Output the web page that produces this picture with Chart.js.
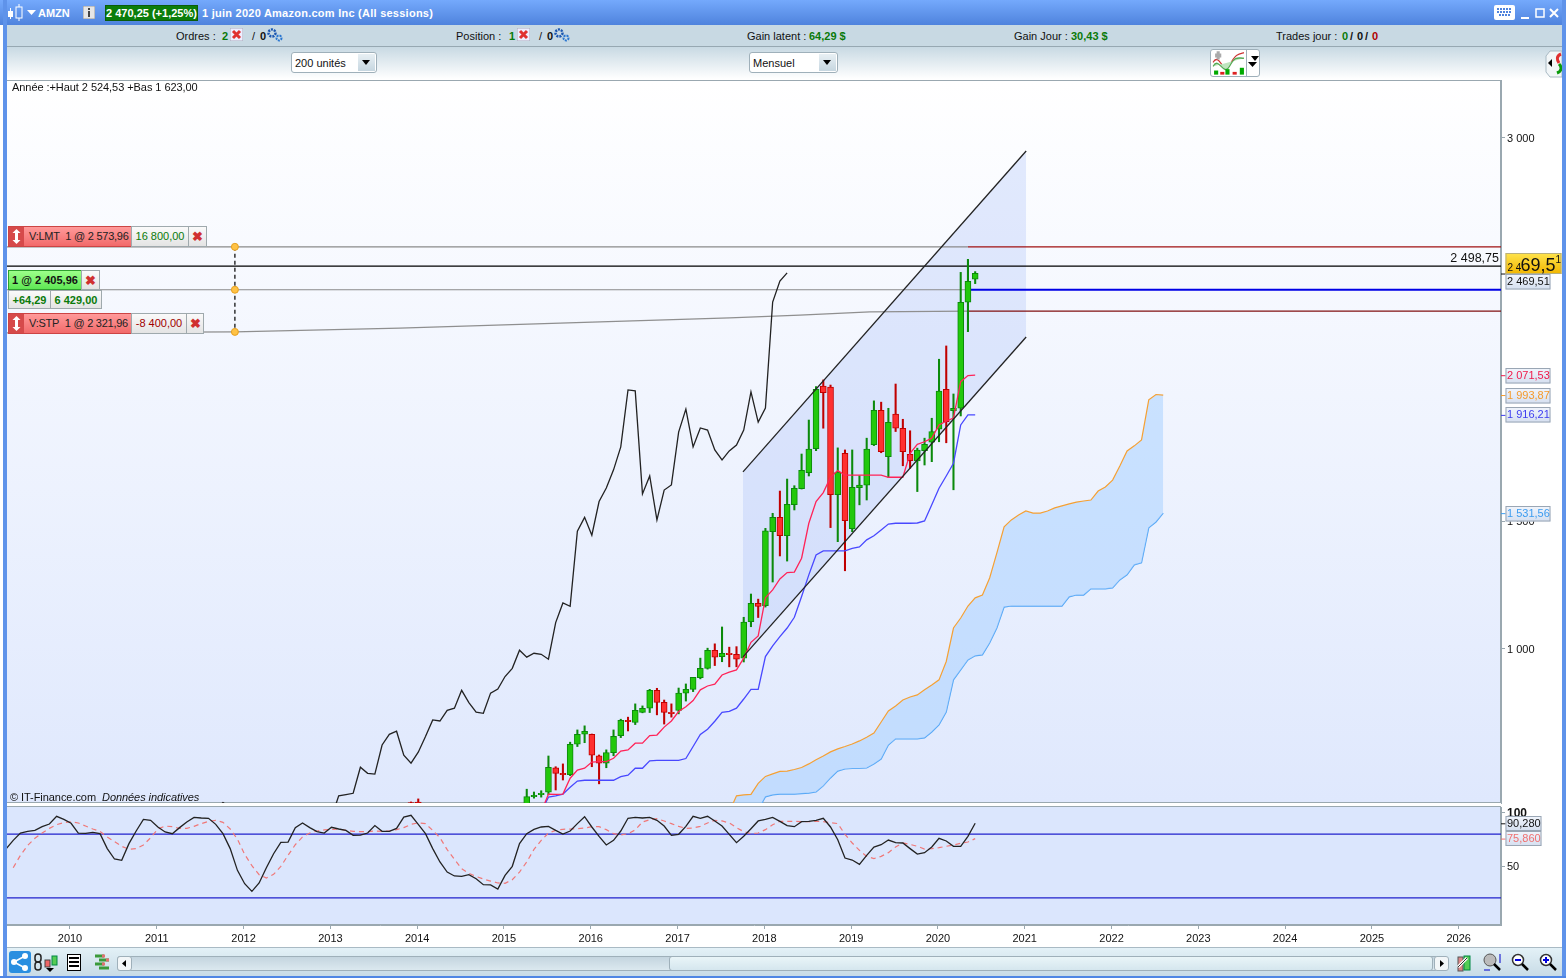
<!DOCTYPE html>
<html lang="fr">
<head>
<meta charset="utf-8">
<title>AMZN</title>
<script src="https://cdn.jsdelivr.net/npm/chart.js@4/dist/chart.umd.min.js"></script>
<style>
  html, body { margin:0; padding:0; width:1566px; height:978px; overflow:hidden; background:#fff;
    font:11px "Liberation Sans", Arial, sans-serif; color:#111; }
  .abs { position:absolute; white-space:nowrap; }
  .edgeL { left:3px; top:0; width:4px; height:978px; background:#5f93ea; }
  .edgeR { left:1562px; top:0; width:4px; height:978px; background:#5f93ea; }
  .edgeB { left:0; top:976px; width:1566px; height:2px; background:#4f86e4; }
  #title { left:0; top:0; width:1566px; height:25px; background:linear-gradient(#74a9fc,#4f83dd); }
  #title span { position:absolute; top:7px; color:#fff; font-weight:bold; line-height:13px; letter-spacing:.25px; }
  #quote { left:105px; top:5px !important; height:16px; background:#0b7d0b; border:1px solid #0a5c0a; line-height:14px !important; text-align:center; box-sizing:border-box; width:93px; letter-spacing:0 !important; }
  #info { left:7px; top:25px; width:1555px; height:21px; background:#c8d9e3; border-bottom:1px solid #97a8b2; }
  #info span { position:absolute; top:5px; line-height:13px; }
  .g { color:#0a7a0a; font-weight:bold; }
  .r { color:#b00000; font-weight:bold; }
  .k { font-weight:bold; }
  #tools { left:7px; top:47px; width:1555px; height:32px; background:linear-gradient(#c8d9e3,#fff); }
  .combo { position:absolute; top:5px; height:21px; box-sizing:border-box; background:#fff; border:1px solid #9fb0ba; border-radius:3px; line-height:21px; padding-left:3px; }
  .combo i { position:absolute; right:1px; top:1px; width:17px; height:17px; background:linear-gradient(#e8f0f4,#c6d6e0); }
  .combo i::after { content:""; position:absolute; left:4px; top:6px; border:4px solid transparent; border-top:5px solid #000; }
  #panelTop { left:7px; top:80px; width:1494px; height:723px; box-sizing:border-box; border:1px solid #9aa8b0; border-left:0;
    background:linear-gradient(#ffffff,#dfe8fd); }
  #panelRsi { left:7px; top:806px; width:1494px; height:119px; box-sizing:border-box; border:1px solid #9aa8b0; border-left:0; background:#dbe6fd; }
  #chartTop, #chartRsi { position:absolute; left:7px; display:block; }
  #bottom { left:7px; top:947px; width:1555px; height:29px; background:linear-gradient(#e3f1f7,#c8dbe6); border-top:1px solid #a9bac4; box-sizing:border-box; }
  .scroll { position:absolute; top:8px; height:15px; box-sizing:border-box; border:1px solid #9fb0ba; border-radius:3px; }
  .order { position:absolute; height:20px; box-sizing:border-box; line-height:19px; border:1px solid #9fa9ad; background:linear-gradient(#fafafa,#e4e4e4); text-align:center; white-space:nowrap; }
  .sell { background:linear-gradient(#ff9a9a,#f26a6a); border-color:#c44; color:#222; text-align:left; padding-left:20px; letter-spacing:-.25px; }
  .arrow { position:absolute; left:0; top:0; width:15px; height:19px; background:#d64a4a; }
  .cross { color:#d03030; font-weight:bold; font-size:13px; }
  .note { position:absolute; line-height:13px; letter-spacing:-.06px; }
</style>
</head>
<body>
<div class="abs" id="panelTop"></div>
<div class="abs" id="panelRsi"></div>
<canvas id="chartTop" width="1559" height="743" style="top:70px;width:1559px;height:743px"></canvas>
<canvas id="chartRsi" width="1559" height="160" style="top:797px;width:1559px;height:160px"></canvas>

<div class="abs" id="title">
  <svg class="abs" style="left:7px;top:3px" width="17" height="18" viewBox="0 0 17 18"><rect x="1" y="8" width="5" height="6" fill="#fff"/><rect x="9" y="4" width="6" height="11" fill="none" stroke="#fff"/><path d="M12 1v3M12 15v3M3.500 5v3M3.500 14v2" stroke="#fff"/></svg>
  <svg class="abs" style="left:27px;top:10px" width="9" height="6"><path d="M0 0h9L4.500 5z" fill="#fff"/></svg>
  <span style="left:38px;letter-spacing:0">AMZN</span>
  <svg class="abs" style="left:83px;top:6px" width="12" height="13"><rect width="12" height="13" fill="#e6e6e6" stroke="#999"/><path d="M6 2v2M6 5v6" stroke="#444" stroke-width="2"/></svg>
  <span id="quote">2 470,25 (+1,25%)</span>
  <span style="left:202px">1 juin 2020 Amazon.com Inc (All sessions)</span>
  <svg class="abs" style="left:1494px;top:5px" width="21" height="16"><rect width="21" height="15" rx="2" fill="#fff"/><path d="M3 4h15M3 7h15M5 10h11" stroke="#4f83dd" stroke-width="2" stroke-dasharray="2 1"/></svg>
  <svg class="abs" style="left:1520px;top:8px" width="40" height="12"><path d="M1 10h8" stroke="#fff" stroke-width="2"/><rect x="16" y="1" width="8" height="8" fill="none" stroke="#fff" stroke-width="1.500"/><path d="M30 1l8 8M38 1l-8 8" stroke="#fff" stroke-width="2"/></svg>
</div>

<div class="abs" id="info">
  <span style="left:169px">Ordres :</span><span class="g" style="left:215px">2</span>
  <svg class="abs" style="left:223px;top:3px" width="13" height="13"><rect width="13" height="13" fill="#eef" stroke="#aab"/><path d="M3 3l7 7M10 3l-7 7" stroke="#e03030" stroke-width="3"/></svg>
  <span style="left:245px">/</span><span class="k" style="left:253px">0</span>
  <svg class="abs" style="left:260px;top:3px" width="16" height="14"><circle cx="5" cy="5" r="3.500" fill="none" stroke="#1a56b0" stroke-width="2.500" stroke-dasharray="2 1"/><circle cx="12" cy="10" r="2.500" fill="none" stroke="#2a76d0" stroke-width="2" stroke-dasharray="2 1"/></svg>
  <span style="left:449px">Position :</span><span class="g" style="left:502px">1</span>
  <svg class="abs" style="left:510px;top:3px" width="13" height="13"><rect width="13" height="13" fill="#eef" stroke="#aab"/><path d="M3 3l7 7M10 3l-7 7" stroke="#e03030" stroke-width="3"/></svg>
  <span style="left:532px">/</span><span class="k" style="left:540px">0</span>
  <svg class="abs" style="left:547px;top:3px" width="16" height="14"><circle cx="5" cy="5" r="3.500" fill="none" stroke="#1a56b0" stroke-width="2.500" stroke-dasharray="2 1"/><circle cx="12" cy="10" r="2.500" fill="none" stroke="#2a76d0" stroke-width="2" stroke-dasharray="2 1"/></svg>
  <span style="left:740px">Gain latent :</span><span class="g" style="left:802px">64,29 $</span>
  <span style="left:1007px">Gain Jour :</span><span class="g" style="left:1064px">30,43 $</span>
  <span style="left:1269px">Trades jour :</span>
  <span class="g" style="left:1335px">0</span><span class="k" style="left:1343px">/</span><span class="k" style="left:1350px">0</span><span class="k" style="left:1358px">/</span><span class="r" style="left:1365px">0</span>
</div>

<div class="abs" id="tools">
  <div class="combo" style="left:284px;width:86px">200 unités<i></i></div>
  <div class="combo" style="left:742px;width:89px">Mensuel<i></i></div>
  <div class="combo" style="left:1203px;top:2px;width:50px;height:28px;padding:0">
    <svg width="34" height="26" viewBox="0 0 33 19" preserveAspectRatio="none" style="position:absolute;left:1px;top:0"><path d="M1 9c6-8 10 10 16 2s8-8 14-9" fill="none" stroke="#c33"/><path d="M1 12c6-8 10 8 16 0s8-6 14-6" fill="#bfe5bf" stroke="#5a5"/><path d="M3 4h6M6 1v6" stroke="#aaa" stroke-width="3"/><rect x="2" y="15" width="4" height="3" fill="#0a0"/><rect x="13" y="14" width="4" height="4" fill="#0a0"/><rect x="27" y="13" width="4" height="5" fill="#0a0"/><rect x="8" y="16" width="4" height="2" fill="#d22"/><rect x="20" y="16" width="4" height="2" fill="#d22"/></svg>
    <svg width="9" height="6" style="position:absolute;left:37px;top:12px"><path d="M0 0h9L4.500 5z" fill="#000"/></svg>
    <i style="left:35px;top:0;width:0;height:26px;border-left:1px solid #9fb0ba;background:none"></i>
  </div>
  <svg class="abs" style="left:1537px;top:1px" width="18" height="31"><path d="M2 8l4-5h12v26H6l-4-5z" fill="#f2f6f8" stroke="#a9bac4"/><path d="M4 15l4-4v8z" fill="#000"/><path d="M17 6c-5 2-4 6-2 9" fill="none" stroke="#e03030" stroke-width="3"/><path d="M15 16c3 3 3 7-2 9" fill="none" stroke="#0a9a0a" stroke-width="3"/></svg>
</div>

<div class="note" style="left:12px;top:81px">Année :+Haut 2 524,53 +Bas 1 623,00</div>
<div class="note" style="left:10px;top:791px;z-index:3">© IT-Finance.com&nbsp; <i>Données indicatives</i></div>

<div class="order sell" style="left:8px;top:226px;width:124px;height:21px">V:LMT&nbsp; 1 @ 2 573,96<span class="arrow"><svg width="15" height="19"><path d="M7.500 2l4 4H9v7h2.500l-4 4-4-4H6V6H3.500z" fill="#fff"/></svg></span></div>
<div class="order g" style="left:131px;top:226px;width:58px;height:21px;font-weight:normal">16 800,00</div>
<div class="order cross" style="left:188px;top:226px;width:19px;height:21px">✖</div>

<div class="order" style="left:8px;top:270px;width:74px;background:linear-gradient(#9cff8a,#5fe855);border-color:#2ea02e;font-weight:bold">1 @ 2 405,96</div>
<div class="order cross" style="left:81px;top:270px;width:19px">✖</div>
<div class="order g" style="left:8px;top:290px;width:43px;height:19px">+64,29</div>
<div class="order g" style="left:50px;top:290px;width:52px;height:19px">6 429,00</div>

<div class="order sell" style="left:8px;top:313px;width:124px;height:21px">V:STP&nbsp; 1 @ 2 321,96<span class="arrow"><svg width="15" height="19"><path d="M7.500 2l4 4H9v7h2.500l-4 4-4-4H6V6H3.500z" fill="#fff"/></svg></span></div>
<div class="order" style="left:131px;top:313px;width:56px;height:21px;color:#a00000">-8 400,00</div>
<div class="order cross" style="left:186px;top:313px;width:18px;height:21px">✖</div>

<div class="abs" id="bottom">
  <svg class="abs" style="left:2px;top:3px" width="22" height="22"><rect width="22" height="22" rx="3" fill="#2a8fe0"/><circle cx="5" cy="11" r="3" fill="#fff"/><circle cx="16" cy="5" r="3" fill="#fff"/><circle cx="16" cy="17" r="3" fill="#fff"/><path d="M5 11L16 5M5 11l11 6" stroke="#fff" stroke-width="1.500"/></svg>
  <svg class="abs" style="left:27px;top:5px" width="24" height="20"><rect x="1" y="1" width="6" height="8" rx="3" fill="none" stroke="#222" stroke-width="1.500"/><rect x="1" y="9" width="6" height="8" rx="3" fill="none" stroke="#222" stroke-width="1.500"/><rect x="11" y="7" width="5" height="7" fill="#e66" stroke="#444"/><rect x="18" y="3" width="5" height="9" fill="#5c5" stroke="#084"/><path d="M12 15h8l-4 4z" fill="#000"/></svg>
  <svg class="abs" style="left:60px;top:6px" width="14" height="17"><rect x=".5" y=".5" width="13" height="16" fill="#fff" stroke="#000"/><path d="M2 4h10M2 8h10M2 12h10" stroke="#000" stroke-width="2"/></svg>
  <svg class="abs" style="left:87px;top:6px" width="16" height="17"><path d="M1 2h9M5 6h10M1 10h9M5 14h10" stroke="#3a9a3a" stroke-width="3"/><path d="M8 2h3M12 6h3M8 10h3" stroke="#e07070" stroke-width="3"/></svg>
  <div class="scroll" style="left:110px;width:1322px;background:linear-gradient(#c4d5df,#dbe8ef)"></div>
  <div class="scroll" style="left:110px;width:15px;background:#f2f6f8"><svg width="13" height="13" style="display:block"><path d="M8 3v7L4 6.500z" fill="#000"/></svg></div>
  <div class="scroll" style="left:662px;width:764px;background:linear-gradient(#e9f5f8,#d5e6ee)"></div>
  <div class="scroll" style="left:1427px;width:15px;background:#f2f6f8"><svg width="13" height="13" style="display:block"><path d="M5 3v7l4-3.500z" fill="#000"/></svg></div>
  <svg class="abs" style="left:1449px;top:5px" width="16" height="21"><rect x="2" y="4" width="5" height="14" fill="#d88" stroke="#555"/><rect x="8" y="3" width="6" height="14" fill="#5c5" stroke="#084"/><path d="M2 14l9-9" stroke="#fff" stroke-width="3"/><path d="M2 14l9-9" stroke="#333"/></svg>
  <svg class="abs" style="left:1476px;top:5px" width="20" height="19"><circle cx="7" cy="7" r="6" fill="#bbb" stroke="#555"/><path d="M11 11l6 6" stroke="#000" stroke-width="2.500"/><path d="M17 1v9M1 17h6" stroke="#00c"/></svg>
  <svg class="abs" style="left:1504px;top:5px" width="18" height="19"><circle cx="7" cy="7" r="5.500" fill="#fff" stroke="#333" stroke-width="1.500"/><path d="M4 7h6" stroke="#00d" stroke-width="2"/><path d="M11 11l6 6" stroke="#000" stroke-width="2.500"/></svg>
  <svg class="abs" style="left:1532px;top:5px" width="18" height="19"><circle cx="7" cy="7" r="5.500" fill="#fff" stroke="#333" stroke-width="1.500"/><path d="M4 7h6M7 4v6" stroke="#00d" stroke-width="2"/><path d="M11 11l6 6" stroke="#000" stroke-width="2.500"/></svg>
</div>
<div class="abs edgeL"></div>
<div class="abs edgeR"></div>
<div class="abs edgeB"></div>

<script>
// x axis unit is months since Jan 2010
const yearLabels = [2010,2011,2012,2013,2014,2015,2016,2017,2018,2019,2020,2021,2022,2023,2024,2025,2026];
const priceTicks = [1000, 1500, 3000];
const rsiTicks = [50, 100];
const rsiBands = [20, 80];

const candleMonths = [47,48,63,64,65,66,67,68,69,70,71,72,73,74,75,76,77,78,79,80,81,82,83,84,85,86,87,88,89,90,91,92,93,94,95,96,97,98,99,100,101,102,103,104,105,106,107,108,109,110,111,112,113,114,115,116,117,118,119,120,121,122,123,124,125];
const candleOpen = [399,401,378,422,430,439,535,513,508,627,666,666,582,553,594,661,721,712,752,768,838,791,752,759,827,842,888,924,995,970,983,979,964,1107,1179,1169,1459,1515,1443,1565,1627,1690,1784,2029,2025,1604,1766,1471,1631,1641,1800,1934,1753,1919,1864,1762,1736,1776,1809,1860,2016,1933,1942,2357,2447];
const candleClose = [386,386,422,427,435,537,513,508,627,666,678,584,553,594,658,721,715,760,768,838,791,752,747,827,842,889,924,995,968,983,978,960,1105,1179,1166,1462,1515,1443,1566,1629,1699,1782,2016,2003,1604,1692,1502,1633,1641,1782,1934,1772,1887,1864,1772,1737,1778,1801,1851,2009,1890,1942,2357,2439,2470];
const candleHigh = [401,413,451,440,445,581,539,550,635,683,699,667,585,605,683,725,733,785,777,842,846,800,785,847,863,889,964,1003,1020,1086,1007,1009,1124,1215,1195,1472,1531,1618,1665,1639,1763,1896,2027,2053,2033,1787,1779,1779,1678,1825,1971,1966,1942,2037,1899,1854,1786,1825,1903,2134,2186,1998,2474,2525,2477];
const candleLow = [370,362,350,416,420,429,448,487,504,618,633,539,472,535,582,653,679,704,750,751,742,706,733,746,796,833,883,921,935,950,930,930,949,1087,1123,1164,1262,1364,1344,1544,1626,1677,1776,1864,1475,1420,1306,1459,1564,1583,1796,1768,1672,1851,1717,1707,1616,1720,1733,1811,1807,1623,1912,2242,2430];

const tenkanStart = 65;
const tenkan = [362,432,431,432,494,526,533,557,559,559,572,600,605,631,631,661,663,694,718,755,774,798,840,855,862,898,909,918,964,1026,1051,1200,1231,1274,1299,1301,1355,1492,1577,1612,1672,1698,1680,1680,1680,1680,1680,1680,1672,1672,1672,1766,1801,1811,1825,1877,1892,1904,2046,2070,2071.53];
const kijunStart = 65;
const kijun = [362,420,425,432,459,483,486,486,486,486,486,500,506,533,533,562,564,564,564,564,571,618,665,686,717,752,756,768,804,842,842,970,1012,1048,1082,1124,1205,1290,1368,1384,1384,1384,1384,1394,1399,1427,1443,1466,1489,1492,1492,1492,1493,1501,1564,1629,1677,1727,1877,1916,1916.21];

const laggingStartA = 20;
const laggingA = [370,399,378];
const laggingStartB = 36;
const laggingB = [339,425,430,435,537,513,510,624,666,678,584,553,596,657,722,718,760,768,838,790,753,748,827,843,892,924,995,968,983,979,960,1103,1180,1167,1461,1515,1445,1577,1630,1701,1791,2014,2010,1607,1677,1505,1622,1642,1849,1939,1791,1865,1857,1779,1740,1775,1798,1857,2006,1888,1943,2358,2440,2472];

const cloudStart = 91;
const senkouA = [362,425,429,431,474,501,511,521,522,528,536,550,566,581,597,609,618,628,640,654,671,714,757,777,800,812,820,840,859,879,951,1082,1121,1168,1200,1211,1278,1376,1478,1505,1524,1540,1532,1532,1540,1552,1560,1568,1575,1579,1583,1618,1634,1661,1716,1775,1795,1818,1975,1996,1993.87];
const senkouB = [350,350,350,350,370,421,429,432,432,432,434,436,440,464,495,522,530,532,532,534,550,569,624,648,648,648,648,652,675,703,753,879,918,957,973,977,1023,1082,1164,1168,1168,1168,1168,1168,1168,1168,1168,1204,1211,1211,1235,1235,1235,1239,1270,1290,1329,1337,1474,1497,1531.56];

const channelMonths = [93.05, 132.2];
const channelUpper = [1693, 2949];
const channelLower = [969, 2221];

const orderLimit = 2573.96;
const orderEntry = 2405.96;
const orderStop = 2321.96;
const lastClose = 2498.75;
const stopCurveMonths = [-8.71, 22.8, 45.6, 73.3, 91.2, 100.9, 110.6, 124.15];
const stopCurve = [2237, 2241, 2256, 2280, 2296, 2307, 2319, 2321.96];
const orderHandleMonth = 22.8;
const orderStartMonth = 124.15;
const xMin = -8.71;
const xMax = 197.85;
// monthly bars sit a little after the first of the month
const barShift = 0.15;

const rsiStart = -9;
const rsi = [66.0,74.2,81.1,82.7,83.6,87.1,89.6,96.9,94.0,90.3,81.1,80.8,81.8,80.5,66.4,56.6,55.3,71.1,83.0,94.0,93.1,86.8,82.1,80.5,86.2,91.5,95.9,95.3,95.0,89.3,80.5,66.4,45.9,33.3,26.1,34.0,48.4,61.6,72.3,72.6,86.2,90.6,86.2,82.4,81.1,86.5,84.9,83.6,78.9,79.2,81.1,88.1,82.7,82.7,85.5,96.2,97.8,89.3,80.5,66.4,53.8,44.3,40.6,40.2,41.8,38.0,32.4,32.1,28.3,41.2,49.7,71.1,80.5,84.6,86.8,87.4,83.6,80.2,83.0,90.0,96.5,86.8,78.0,69.8,74.2,83.0,95.0,95.9,95.3,95.9,93.1,87.7,78.9,79.9,87.4,96.9,95.0,96.9,92.5,87.7,79.9,72.0,78.0,85.2,92.5,94.0,95.9,92.1,88.1,87.1,91.8,92.1,93.1,95.0,86.8,74.8,57.5,55.6,51.6,60.1,67.9,70.1,74.5,72.0,71.7,66.4,61.3,62.6,67.9,76.1,73.6,68.6,68.6,78.0,90.28];
const signalStart = -8;
const signal = [48.4,60.1,69.5,76.1,81.1,85.5,89.0,90.9,91.8,90.6,87.7,84.9,82.7,77.4,73.0,68.6,65.7,66.4,69.8,76.7,84.9,87.7,87.1,85.5,85.5,87.4,90.0,92.1,93.1,91.2,84.9,75.2,61.0,50.3,41.8,38.7,42.1,49.7,60.1,70.1,77.4,81.1,83.0,84.0,84.6,84.9,83.6,82.7,82.4,82.4,83.0,82.7,83.0,84.3,86.2,89.3,90.6,90.0,83.6,76.7,65.4,56.3,47.5,43.1,40.2,37.7,35.8,34.0,33.7,37.1,44.3,53.8,65.7,74.2,81.1,83.6,84.6,84.9,85.2,85.8,87.1,87.1,84.3,80.5,79.2,80.5,84.0,91.5,93.7,94.6,92.5,90.0,87.4,85.5,85.8,87.4,90.6,93.1,92.5,90.6,86.2,82.4,80.5,81.1,84.3,89.0,92.1,92.1,92.1,91.8,91.8,92.1,91.8,90.9,90.0,79.9,71.7,64.8,59.1,57.0,59.1,62.6,67.9,71.7,70.4,68.6,66.0,66.4,67.3,68.6,69.8,71.4,72.6,75.86];

const priceTags = [
  ['2 469,51', 2469.51, '#111111', 7.5],
  ['2 071,53', 2071.53, '#f0194a', 0],
  ['1 993,87', 1993.87, '#f59a2a', 0],
  ['1 916,21', 1916.21, '#3c3cf0', 0],
  ['1 531,56', 1531.56, '#3c9cf0', 0]
];
const rsiTags = [
  ['90,280', 90.28, '#111111', 0],
  ['75,860', 75.86, '#f07070', 0]
];

Chart.defaults.font.family = '"Liberation Sans", Arial, sans-serif';
Chart.defaults.font.size = 11;
Chart.defaults.color = '#111';

function pts(start, values) { return values.map((v, i) => ({ x: start + i + barShift, y: v })); }
function zip(xs, ys) { return xs.map((x, i) => ({ x, y: ys[i] })); }
function spaced(v) { return String(v).replace(/\B(?=(\d{3})+$)/g, ' '); }
function line(data, color, width, order, extra) {
  return Object.assign({ type:'line', data, borderColor:color, borderWidth:width, pointRadius:0, tension:0, fill:false, order }, extra || {});
}

function drawTag(ctx, x, w, y, h, text, color) {
  const g = ctx.createLinearGradient(0, y, 0, y + h);
  g.addColorStop(0, '#f1f5fc');
  g.addColorStop(1, '#d5dff0');
  ctx.fillStyle = g;
  ctx.fillRect(x, y, w, h);
  ctx.strokeStyle = '#9aa6b4';
  ctx.lineWidth = 1;
  ctx.strokeRect(x + .5, y + .5, w - 1, h - 1);
  ctx.fillStyle = color;
  ctx.font = '11px "Liberation Sans", Arial, sans-serif';
  ctx.textAlign = 'left';
  ctx.textBaseline = 'middle';
  ctx.fillText(text, x + 1.5, y + h / 2 + .5);
}

/* labels on the right of the price panel */
const priceLabels = {
  id: 'priceLabels',
  afterDraw(chart) {
    const { ctx, chartArea: a, scales: { y } } = chart;
    const right = a.right;
    ctx.save();
    priceTags.forEach(t => {
      const py = y.getPixelForValue(t[1]);
      ctx.strokeStyle = t[2];
      ctx.beginPath(); ctx.moveTo(right, py + .5); ctx.lineTo(right + 5, py + .5); ctx.stroke();
      drawTag(ctx, right + 4.5, 45, Math.round(py + t[3] - 7.5), 15.5, t[0], t[2]);
    });
    // live price box
    const py = y.getPixelForValue(lastClose);
    const bx = right + 4.5, by = Math.round(py) - 13, bh = 21;
    const g = ctx.createLinearGradient(0, by, 0, by + bh);
    g.addColorStop(0, '#ffe44d');
    g.addColorStop(1, '#f2b600');
    ctx.fillStyle = g;
    ctx.fillRect(bx, by, 56, bh);
    ctx.strokeStyle = '#b9b07a';
    ctx.strokeRect(bx + .5, by + .5, 55, bh - 1);
    ctx.fillStyle = '#111';
    ctx.textBaseline = 'alphabetic';
    ctx.textAlign = 'left';
    ctx.font = '10px "Liberation Sans", Arial, sans-serif';
    ctx.fillText('2 4', bx + 2, by + 18);
    ctx.font = '18px "Liberation Sans", Arial, sans-serif';
    ctx.fillText('69,5', bx + 15, by + 18);
    ctx.font = '10px "Liberation Sans", Arial, sans-serif';
    ctx.fillText('1', bx + 50, by + 10);
    // level caption above the black line
    ctx.font = '12.500px "Liberation Sans", Arial, sans-serif';
    ctx.textAlign = 'right';
    ctx.textBaseline = 'bottom';
    ctx.fillText('2 498,75', right - 2, py - 1);
    ctx.restore();
  }
};

const rsiLabels = {
  id: 'rsiLabels',
  afterDraw(chart) {
    const { ctx, chartArea: a, scales: { y } } = chart;
    ctx.save();
    rsiTags.forEach(t => {
      const py = y.getPixelForValue(t[1]);
      ctx.strokeStyle = t[2];
      ctx.beginPath(); ctx.moveTo(a.right, py + .5); ctx.lineTo(a.right + 5, py + .5); ctx.stroke();
      drawTag(ctx, a.right + 4.5, 36, Math.round(py - 7.5), 15, t[0], t[2]);
    });
    ctx.restore();
  }
};

const candleColors = candleMonths.map((m, i) => candleClose[i] >= candleOpen[i]);

new Chart(document.getElementById('chartTop'), {
  type: 'line',
  plugins: [priceLabels],
  data: {
    datasets: [
      // channel fill sits under everything
      line(zip(channelMonths, channelUpper), 'rgba(0,0,0,0)', 0, 95, { fill:'+1', backgroundColor:'rgba(165,190,250,.3)' }),
      line(zip(channelMonths, channelLower), 'rgba(0,0,0,0)', 0, 96),
      line(pts(cloudStart, senkouA), '#f5a033', 1.2, 80, { fill:'+1', backgroundColor:'rgba(170,210,255,.55)' }),
      line(pts(cloudStart, senkouB), '#4da3f5', 1.2, 81),
      // order levels
      line(zip([xMin, orderStartMonth], [orderLimit, orderLimit]), '#8a8a8a', 1.2, 70),
      line(zip([orderStartMonth, xMax], [orderLimit, orderLimit]), '#a01010', 1.2, 70),
      line(zip([xMin, xMax], [lastClose, lastClose]), '#000', 1.2, 70),
      line(zip([xMin, orderStartMonth], [orderEntry, orderEntry]), '#8a8a8a', 1.2, 70),
      line(zip([orderStartMonth, xMax], [orderEntry, orderEntry]), '#0000e6', 2, 70),
      line(zip(stopCurveMonths, stopCurve), '#8f8f8f', 1.3, 70),
      line(zip([orderStartMonth, xMax], [orderStop, orderStop]), '#801010', 1.2, 70),
      line(pts(laggingStartA, laggingA), '#222', 1.3, 60),
      line(pts(laggingStartB, laggingB), '#222', 1.3, 60),
      {
        type:'bar', order:50, grouped:false, barThickness:1.4,
        data: candleMonths.map((m, i) => ({ x:m + barShift, y:[candleLow[i], candleHigh[i]] })),
        backgroundColor: candleColors.map(up => up ? '#0b8a0b' : '#c00000')
      },
      {
        type:'bar', order:40, grouped:false, barThickness:6, borderWidth:1, borderSkipped:false,
        data: candleMonths.map((m, i) => ({ x:m + barShift, y:[candleOpen[i], candleClose[i]] })),
        backgroundColor: candleColors.map(up => up ? '#22c80c' : '#ff3030'),
        borderColor: candleColors.map(up => up ? '#0b8a0b' : '#c00000')
      },
      line(pts(tenkanStart, tenkan), '#ff2358', 1.3, 30),
      line(pts(kijunStart, kijun), '#4848ff', 1.3, 31),
      line(zip(channelMonths, channelUpper), '#222', 1.3, 20),
      line(zip(channelMonths, channelLower), '#222', 1.3, 20),
      // order handles
      line(zip([orderHandleMonth, orderHandleMonth], [orderLimit, stopCurve[1]]), '#000', 1.2, 15, { borderDash:[4,3] }),
      line(zip([orderHandleMonth, orderHandleMonth, orderHandleMonth], [orderLimit, orderEntry, stopCurve[1]]), 'rgba(0,0,0,0)', 0, 14,
        { pointRadius:3.5, pointBackgroundColor:'#ffc245', pointBorderColor:'#e5a020', pointBorderWidth:1, showLine:false })
    ]
  },
  options: {
    responsive:false, animation:false,
    layout:{ autoPadding:false, padding:{ top:10, bottom:10, left:0, right:0 } },
    plugins:{ legend:{ display:false }, tooltip:{ enabled:false } },
    scales:{
      x:{
        type:'linear', min:xMin, max:xMax, offset:false,
        afterBuildTicks(s){ s.ticks = []; },
        afterFit(s){ s.height = 0; s.paddingLeft = 0; s.paddingRight = 0; },
        grid:{ display:false, offset:false }, border:{ display:false }, ticks:{ display:false }
      },
      y:{
        position:'right', min:397, max:3227,
        afterBuildTicks(s){ s.ticks = priceTicks.map(v => ({ value:v })); },
        afterFit(s){ s.width = 65; },
        grid:{ drawOnChartArea:false, tickLength:4, color:'#9aa8b0' },
        border:{ color:'#9aa8b0' },
        ticks:{ padding:2, labelOffset:1, font:{ size:11 }, callback:v => spaced(v) }
      }
    }
  }
});

new Chart(document.getElementById('chartRsi'), {
  type:'line',
  plugins:[rsiLabels],
  data:{
    datasets:[
      line(zip([xMin, xMax], [rsiBands[1], rsiBands[1]]), '#2020cc', 1.2, 30),
      line(zip([xMin, xMax], [rsiBands[0], rsiBands[0]]), '#2020cc', 1.2, 30),
      line(pts(signalStart, signal), '#f07878', 1.2, 20, { borderDash:[5,4] }),
      line(pts(rsiStart, rsi), '#222', 1.3, 10)
    ]
  },
  options:{
    responsive:false, animation:false,
    layout:{ autoPadding:false, padding:{ top:10, bottom:0, left:0, right:0 } },
    plugins:{ legend:{ display:false }, tooltip:{ enabled:false } },
    scales:{
      x:{
        type:'linear', min:xMin, max:xMax,
        afterBuildTicks(s){ s.ticks = yearLabels.map(y => ({ value:(y - 2010) * 12 })); },
        afterFit(s){ s.height = 32; },
        grid:{ drawOnChartArea:false, tickLength:4, color:'#9aa8b0' },
        border:{ color:'#9aa8b0' },
        ticks:{ padding:3, maxRotation:0, autoSkip:false, font:{ size:11 }, callback:v => String(2010 + v / 12) }
      },
      y:{
        position:'right', min:-5.66, max:105.66,
        afterBuildTicks(s){ s.ticks = rsiTicks.map(v => ({ value:v })); },
        afterFit(s){ s.width = 65; },
        grid:{ drawOnChartArea:false, tickLength:4, color:'#9aa8b0' },
        border:{ color:'#9aa8b0' },
        ticks:{ padding:2, labelOffset:1, font:ctx => ctx.tick && ctx.tick.value === 100 ? { size:12, weight:'bold' } : { size:11 } }
      }
    }
  }
});
</script>
</body>
</html>
